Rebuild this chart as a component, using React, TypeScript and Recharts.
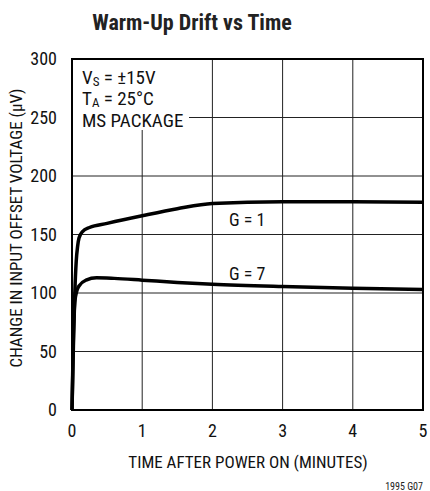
import { LineChart, Line, XAxis, YAxis, CartesianGrid } from "recharts";

const xTicks = [0, 1, 2, 3, 4, 5];
const yTicks = [0, 50, 100, 150, 200, 250, 300];

// G = 1 curve
const g1Time = [0, 0.02, 0.04, 0.06, 0.08, 0.1, 0.15, 0.25, 0.5, 1, 1.5, 2, 3, 4, 5];
const g1Drift = [0, 55, 100, 127, 140, 147, 152.5, 156, 159.5, 166, 172, 176.5, 178, 178, 177.5];

// G = 7 curve
const g7Time = [0, 0.02, 0.04, 0.07, 0.1, 0.2, 0.35, 0.6, 1, 1.5, 2, 3, 4, 5];
const g7Drift = [0, 65, 92, 102, 106, 111, 113, 112.5, 111, 109, 107.5, 105.5, 104, 103];

const g1 = g1Time.map((t, i) => ({ t, v: g1Drift[i] }));
const g7 = g7Time.map((t, i) => ({ t, v: g7Drift[i] }));

const font = "'Liberation Sans Narrow', 'Roboto Condensed', 'DejaVu Sans Condensed', Arial, sans-serif";

export default function App() {
  return (
    <div style={{ position: "absolute", left: 0, top: 0, width: 430, height: 491, background: "#fff", fontFamily: font }}>
      <LineChart width={430} height={491} margin={{ top: 59, right: 7, bottom: 51, left: 12 }}>
        <CartesianGrid stroke="#222" strokeWidth={1} horizontalValues={yTicks} verticalValues={xTicks} />
        <XAxis
          type="number"
          dataKey="t"
          domain={[0, 5]}
          ticks={xTicks}
          axisLine={false}
          tickLine={false}
          height={30}
          tick={{ fill: "#111", fontSize: 18, fontFamily: font }}
          tickMargin={8}
          allowDuplicatedCategory={false}
        />
        <YAxis
          type="number"
          domain={[0, 300]}
          ticks={yTicks}
          axisLine={false}
          tickLine={false}
          width={60}
          tick={{ fill: "#111", fontSize: 18, fontFamily: font }}
          tickMargin={9}
        />
        <Line data={g1} dataKey="v" type="monotone" stroke="#000" strokeWidth={3.5} dot={false} isAnimationActive={false} />
        <Line data={g7} dataKey="v" type="monotone" stroke="#000" strokeWidth={3.5} dot={false} isAnimationActive={false} />
      </LineChart>
      <svg width={430} height={491} style={{ position: "absolute", left: 0, top: 0 }} fontFamily={font}>
        <rect x={73} y={60} width={116} height={70} fill="#fff" />
        <rect x={72} y={59} width={351} height={351} fill="none" stroke="#000" strokeWidth={2} />
        <text x={192} y={30} textAnchor="middle" fontSize={22} fontWeight="bold" fill="#222">Warm-Up Drift vs Time</text>
        <text x={82} y={84} fontSize={19} fill="#111">
          V<tspan fontSize={13} dy={2}>S</tspan><tspan dy={-2}> = ±15V</tspan>
        </text>
        <text x={82} y={105} fontSize={19} fill="#111">
          T<tspan fontSize={13} dy={2}>A</tspan><tspan dy={-2}> = 25°C</tspan>
        </text>
        <text x={82} y={127} fontSize={19} fill="#111">MS PACKAGE</text>
        <text x={229} y={226} fontSize={18} fill="#111">G = 1</text>
        <text x={229} y={280} fontSize={18} fill="#111">G = 7</text>
        <text x={248} y={468} textAnchor="middle" fontSize={17} fill="#111">TIME AFTER POWER ON (MINUTES)</text>
        <text x={22} y={228} textAnchor="middle" fontSize={17} fill="#111" transform="rotate(-90 22 228)">CHANGE IN INPUT OFFSET VOLTAGE (μV)</text>
        <text x={423} y={490} textAnchor="end" fontSize={10} fill="#222">1995 G07</text>
      </svg>
    </div>
  );
}
